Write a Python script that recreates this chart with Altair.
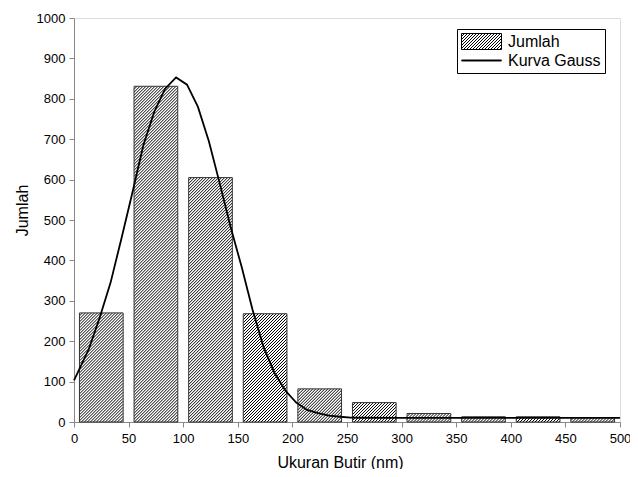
import altair as alt
import pandas as pd

# ---- data ----
bin_start = [0, 50, 100, 150, 200, 250, 300, 350, 400, 450]
jumlah = [270, 831, 605, 268, 82, 48, 21, 13, 13, 11]

gauss_x = [0, 13.5, 23.5, 33.5, 43.5, 53.5, 63.5, 73.5, 83.5, 93.5, 103.5,
           113.5, 123.5, 133.5, 143.5, 153.5, 163.5, 173.5, 183.5, 193.5,
           203.5, 213.5, 223.5, 233.5, 243.5, 253.5, 263.5, 300, 350, 400,
           450, 500]
gauss_y = [103, 180, 258, 345, 455, 568, 685, 768, 825, 853, 835,
           780, 695, 590, 482, 384, 278, 186, 122, 78,
           48, 30, 22, 16, 13, 11, 10.5, 10, 10, 10,
           10, 10]

series = ["Jumlah", "Kurva Gauss"]
x_title = "Ukuran Butir (nm)"
y_title = "Jumlah"

# ---- layout / style ----
W, H = 546, 404
FONT = "Liberation Sans"
PX_X = W / 500.0
PX_Y = H / 1000.0
S = 3.0  # hatch spacing in px

bars_df = pd.DataFrame({"start": bin_start, "v": jumlah})
bars_df["x0"] = bars_df["start"] + 5
bars_df["x1"] = bars_df["start"] + 45
gauss_df = pd.DataFrame({"gx": gauss_x, "gy": gauss_y})

xscale = alt.Scale(domain=[0, 500], nice=False, zero=False)
yscale = alt.Scale(domain=[0, 1000], nice=False)

x_axis = alt.Axis(
    title=x_title, values=list(range(0, 501, 25)),
    labelExpr="datum.value % 50 === 0 ? datum.label : ''",
    tickSize={"condition": {"test": "datum.value % 50 === 0", "value": 5}, "value": 3},
    labelOverlap=False, labelFlush=False, grid=False, format="d",
    labelFontSize=13, titleFontSize=16, titleFontWeight="normal",
    labelPadding=5, titlePadding=9, titleX=266,
)
y_axis = alt.Axis(
    title=y_title, values=list(range(0, 1001, 50)),
    labelExpr="datum.value % 100 === 0 ? datum.label : ''",
    tickSize={"condition": {"test": "datum.value % 100 === 0", "value": 5}, "value": 3},
    labelOverlap=False, labelFlush=False, grid=False, format="d",
    labelFontSize=13, titleFontSize=16, titleFontWeight="normal",
    labelPadding=4, titlePadding=6, titleY=192,
)

base_bars = alt.Chart(bars_df)

bars_bg = base_bars.mark_rect(fill="white").encode(
    x=alt.X("x0:Q", scale=xscale, axis=x_axis), x2="x1:Q",
    y=alt.Y("v:Q", scale=yscale, axis=y_axis), y2=alt.datum(0),
)

hatch = (
    base_bars
    .transform_calculate(wpx=f"(datum.x1 - datum.x0) * {PX_X}")
    .transform_calculate(hpx=f"datum.v * {PX_Y}")
    .transform_calculate(k=f"sequence(0, ceil((datum.wpx + datum.hpx) / {S}) + 1)")
    .transform_flatten(["k"])
    .transform_calculate(a=f"-datum.hpx + datum.k * {S}")
    .transform_calculate(us="max(datum.a, 0)")
    .transform_calculate(ue="min(datum.a + datum.hpx, datum.wpx)")
    .transform_filter("datum.us < datum.ue")
    .transform_calculate(xs=f"datum.x0 + datum.us / {PX_X}")
    .transform_calculate(ys=f"(datum.us - datum.a) / {PX_Y}")
    .transform_calculate(xe=f"datum.x0 + datum.ue / {PX_X}")
    .transform_calculate(ye=f"(datum.ue - datum.a) / {PX_Y}")
    .mark_rule(color="black", strokeWidth=1.0)
    .encode(x=alt.X("xs:Q", scale=xscale), y=alt.Y("ys:Q", scale=yscale),
            x2="xe:Q", y2="ye:Q")
)

bars_outline = base_bars.mark_rect(fill=None, stroke="#333333", strokeWidth=1).encode(
    x=alt.X("x0:Q", scale=xscale), x2="x1:Q",
    y=alt.Y("v:Q", scale=yscale), y2=alt.datum(0),
)

line = alt.Chart(gauss_df).mark_line(color="black", strokeWidth=1.8).encode(
    x=alt.X("gx:Q", scale=xscale), y=alt.Y("gy:Q", scale=yscale),
)

# ---- legend symbols (custom paths) ----
def hatch_symbol():
    x0, x1, y0, y1 = -1.0, 4.0, -1.0, 1.0
    parts = [f"M{x0},{y0}H{x1}V{y1}H{x0}Z"]
    step = S / 8.0
    a = x0 - 2.0
    while a < x1:
        xs = max(a, x0)
        xe = min(a + 2.0, x1)
        if xs < xe:
            ys = 1.0 - (xs - a)
            ye = 1.0 - (xe - a)
            parts.append(f"M{xs:.3f},{ys:.3f}L{xe:.3f},{ye:.3f}")
        a += step
    return "".join(parts)

line_symbol = "M-1,-0.06H4M-1,0.06H4M-1,0H4"

legend_layer = (
    alt.Chart(pd.DataFrame({"series": series}))
    .transform_filter("false")
    .mark_point(color="black", filled=False)
    .encode(
        shape=alt.Shape(
            "series:N",
            scale=alt.Scale(domain=series, range=[hatch_symbol(), line_symbol]),
            legend=alt.Legend(
                title=None, orient="none", legendX=383, legendY=11,
                symbolSize=256, symbolStrokeWidth=1, symbolStrokeColor="black",
                symbolFillColor="transparent", symbolOpacity=1,
                labelFontSize=16, labelFont=FONT, labelColor="black",
                labelOffset=30, padding=4, rowPadding=0,
                strokeColor="black", fillColor="white",
            ),
        )
    )
)

chart = (
    alt.layer(bars_bg, hatch, bars_outline, line, legend_layer)
    .properties(
        width=W, height=H,
        autosize=alt.AutoSizeParams(type="none"),
        padding={"left": 66, "top": 10, "right": 10, "bottom": 47},
    )
    .configure_view(stroke=None)
    .configure_axis(
        domainColor="black", tickColor="black", labelColor="black",
        titleColor="black", labelFont=FONT, titleFont=FONT,
        titleFontWeight="normal", domainWidth=1, tickWidth=1,
    )
    .configure(font=FONT, background="white")
)

chart.save("out.html", embed_options={"renderer": "svg", "actions": False})
